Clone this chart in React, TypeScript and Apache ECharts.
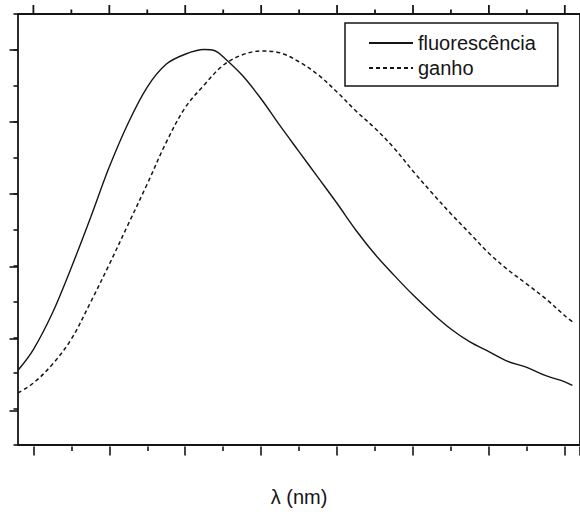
import React, { useEffect, useRef } from "react";
import * as echarts from "echarts";

// wavelength samples (nm)
const wavelengths = [516, 520, 525, 530, 535, 540, 545, 550, 555, 560, 565, 568, 570, 575, 580, 585, 590, 595, 600, 605, 610, 615, 620, 625, 630, 635, 640, 645, 650, 655, 660, 662];

// fluorescence (arb. units)
const fluorescence = [2.08, 2.65, 3.66, 4.93, 6.30, 7.73, 8.96, 9.96, 10.60, 10.88, 11.01, 10.97, 10.81, 10.30, 9.64, 8.89, 8.17, 7.45, 6.73, 5.98, 5.31, 4.73, 4.18, 3.68, 3.23, 2.87, 2.60, 2.33, 2.16, 1.93, 1.76, 1.66];

// gain (arb. units)
const gainWavelengths = [516, 520, 525, 530, 535, 540, 545, 550, 555, 560, 565, 570, 575, 580, 585, 590, 595, 600, 605, 610, 615, 620, 625, 630, 635, 640, 645, 650, 655, 660, 662];
const gain = [1.45, 1.72, 2.24, 2.94, 3.95, 5.02, 6.14, 7.26, 8.42, 9.39, 10.02, 10.57, 10.86, 10.97, 10.92, 10.67, 10.31, 9.83, 9.30, 8.82, 8.27, 7.63, 7.02, 6.44, 5.89, 5.34, 4.88, 4.48, 4.07, 3.60, 3.43];

// top-axis tick wavelengths (major every 20 nm, minor in between)
const topTickValues = [520, 530, 540, 550, 560, 570, 580, 590, 600, 610, 620, 630, 640, 650, 660];

const seriesNames = ["fluorescência", "ganho"];
const xAxisName = "λ (nm)";

const INK = "#151515";
const FONT = "'Liberation Sans', Arial, sans-serif";

export default function App() {
  const ref = useRef<HTMLDivElement>(null);

  useEffect(() => {
    if (!ref.current) return;
    const chart = echarts.init(ref.current, null, { renderer: "svg" });

    const hiddenAxis = (extra: any) => ({
      axisLine: { show: false, onZero: false },
      axisTick: { show: false },
      axisLabel: { show: false },
      splitLine: { show: false },
      ...extra,
    });

    const option: any = {
      animation: false,
      backgroundColor: "#ffffff",
      grid: [
        // data + frame
        { left: 18, top: 14, right: -9, bottom: 65.5, show: true, borderColor: INK, borderWidth: 1.8, backgroundColor: "transparent" },
        // x ticks (first major at 520 nm)
        { left: 33.4, top: 14, right: -9, bottom: 65.5 },
        // y major ticks
        { left: 18, top: 50.04, right: -9, bottom: 101.54 },
      ],
      xAxis: [
        hiddenAxis({
          type: "value", gridIndex: 0, min: 516, max: 664,
          name: xAxisName, nameLocation: "middle", nameGap: 42,
          nameTextStyle: { fontSize: 20, fontFamily: FONT, color: INK },
        }),
        {
          type: "value", gridIndex: 1, position: "bottom", min: 520, max: 664, interval: 20,
          axisLine: { show: false, onZero: false },
          axisTick: { show: true, length: 9, lineStyle: { color: INK, width: 1.6 } },
          minorTick: { show: true, splitNumber: 2, length: 4.5, lineStyle: { color: INK, width: 1.6 } },
          axisLabel: { show: false }, splitLine: { show: false }, minorSplitLine: { show: false },
        },
        hiddenAxis({ type: "value", gridIndex: 2, min: 0, max: 1 }),
      ],
      yAxis: [
        {
          type: "value", gridIndex: 0, min: 0, max: 12, interval: 1,
          axisLine: { show: false, onZero: false },
          axisTick: { show: true, length: 4.5, lineStyle: { color: INK, width: 1.6 } },
          axisLabel: { show: false }, splitLine: { show: false },
        },
        hiddenAxis({ type: "value", gridIndex: 1, min: 0, max: 1 }),
        {
          type: "value", gridIndex: 2, min: 0, max: 10, interval: 2,
          axisLine: { show: false, onZero: false },
          axisTick: { show: true, length: 8.5, lineStyle: { color: INK, width: 1.6 } },
          axisLabel: { show: false }, splitLine: { show: false },
        },
      ],
      legend: {
        orient: "vertical",
        left: 345,
        top: 23,
        padding: [10, 22, 8, 23],
        itemGap: 5,
        itemWidth: 44,
        itemHeight: 14,
        borderColor: INK,
        borderWidth: 1.5,
        borderRadius: 0,
        itemStyle: { opacity: 0 },
        textStyle: { fontSize: 20, fontFamily: FONT, color: INK },
        data: seriesNames,
      },
      series: [
        {
          name: seriesNames[0],
          type: "line",
          xAxisIndex: 0,
          yAxisIndex: 0,
          symbol: "none",
          smooth: 0.35,
          lineStyle: { color: INK, width: 1.4, type: "solid" },
          itemStyle: { color: INK },
          data: wavelengths.map((w, i) => [w, fluorescence[i]]),
        },
        {
          name: seriesNames[1],
          type: "line",
          xAxisIndex: 0,
          yAxisIndex: 0,
          symbol: "none",
          smooth: 0.35,
          lineStyle: { color: INK, width: 1.5, type: [4, 3] },
          itemStyle: { color: INK },
          data: gainWavelengths.map((w, i) => [w, gain[i]]),
        },
      ],
    };

    chart.setOption(option);

    // Top-edge ticks: positions come from the library's own x scale (grid 1 axis)
    const yTop = chart.convertToPixel({ yAxisIndex: 1 } as any, 1) as unknown as number;
    const tickLines = topTickValues.map((v) => {
      const x = chart.convertToPixel({ xAxisIndex: 1 } as any, v) as unknown as number;
      const major = (v - 520) % 20 === 0;
      return {
        type: "line",
        z: 100,
        silent: true,
        shape: { x1: x, y1: yTop, x2: x, y2: yTop - (major ? 9 : 4.5) },
        style: { stroke: INK, lineWidth: 1.8 },
      };
    });
    chart.setOption({ graphic: tickLines });

    return () => chart.dispose();
  }, []);

  return (
    <div
      ref={ref}
      style={{ position: "fixed", left: 0, top: 0, width: 580, height: 512, background: "#fff" }}
    />
  );
}
